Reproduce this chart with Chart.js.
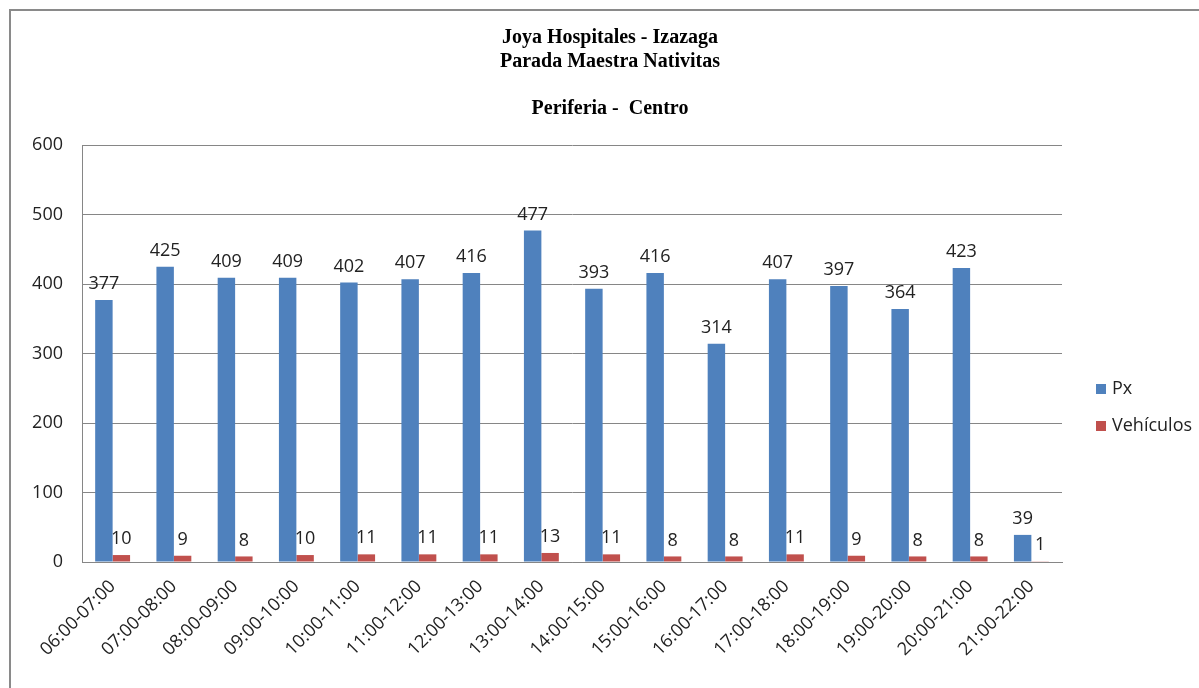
<!DOCTYPE html>
<html>
<head>
<meta charset="utf-8">
<script src="https://cdn.jsdelivr.net/npm/chart.js@4/dist/chart.umd.min.js"></script>
<style>
  body { margin: 0; background: #fff; }
  #wrap { width: 1199px; height: 688px; position: relative; }
</style>
</head>
<body>
<div id="wrap"><canvas id="chart" width="1199" height="688"></canvas></div>
<script>
// data
const horas = ['06:00-07:00', '07:00-08:00', '08:00-09:00', '09:00-10:00', '10:00-11:00', '11:00-12:00',
    '12:00-13:00', '13:00-14:00', '14:00-15:00', '15:00-16:00', '16:00-17:00', '17:00-18:00',
    '18:00-19:00', '19:00-20:00', '20:00-21:00', '21:00-22:00'];
const px = [377, 425, 409, 409, 402, 407, 416, 477, 393, 416, 314, 407, 397, 364, 423, 39];
const vehiculos = [10, 9, 8, 10, 11, 11, 11, 13, 11, 8, 8, 11, 9, 8, 8, 1];
const yTicks = [0, 100, 200, 300, 400, 500, 600];
const titleLines = ['Joya Hospitales - Izazaga', 'Parada Maestra Nativitas', '', 'Periferia -  Centro'];

const labelFont = '18px "Open Sans", sans-serif';

// frame, title and legend drawn around the chart
const decorPlugin = {
    id: 'decor',
    beforeDraw(chart) {
        const ctx = chart.ctx;
        ctx.save();
        ctx.strokeStyle = '#8a8a8a';
        ctx.lineWidth = 2;
        ctx.strokeRect(10, 10, 1250, 750);
        ctx.restore();
    },
    afterDraw(chart) {
        const ctx = chart.ctx;
        ctx.save();
        // title
        ctx.fillStyle = '#000';
        ctx.font = 'bold 20px "Liberation Serif", serif';
        ctx.textAlign = 'center';
        ctx.textBaseline = 'middle';
        titleLines.forEach((line, i) => {
            ctx.fillText(line, 610, 38 + i * 23.5);
        });
        // legend
        ctx.font = labelFont;
        ctx.textAlign = 'left';
        chart.data.datasets.forEach((ds, i) => {
            const y = 389 + i * 37;
            ctx.fillStyle = ds.backgroundColor;
            ctx.fillRect(1096, y - 5, 10, 10);
            ctx.fillStyle = '#222';
            ctx.fillText(ds.label, 1112, y);
        });
        ctx.restore();
    }
};

// value labels above each bar
const valuePlugin = {
    id: 'values',
    afterDatasetsDraw(chart) {
        const ctx = chart.ctx;
        ctx.save();
        ctx.font = labelFont;
        ctx.fillStyle = '#222';
        ctx.textAlign = 'center';
        ctx.textBaseline = 'bottom';
        chart.data.datasets.forEach((ds, i) => {
            chart.getDatasetMeta(i).data.forEach((bar, j) => {
                ctx.fillText(ds.data[j], bar.x, bar.y - 7);
            });
        });
        ctx.restore();
    }
};

new Chart(document.getElementById('chart'), {
    type: 'bar',
    data: {
        labels: horas,
        datasets: [
            { label: 'Px', data: px, backgroundColor: '#4F81BD' },
            { label: 'Vehículos', data: vehiculos, backgroundColor: '#C0504D' }
        ]
    },
    options: {
        responsive: false,
        animation: false,
        categoryPercentage: 0.57,
        barPercentage: 1.0,
        layout: { padding: { top: 145, left: 0, right: 137, bottom: 0 } },
        plugins: {
            legend: { display: false },
            title: { display: false },
            tooltip: { enabled: false }
        },
        scales: {
            x: {
                grid: { display: false },
                border: { display: true, color: '#868686' },
                ticks: {
                    color: '#222',
                    font: { family: 'Open Sans', size: 18 },
                    minRotation: 45,
                    maxRotation: 45,
                    padding: 6,
                    autoSkip: false
                },
                afterFit(scale) { scale.height = 126; }
            },
            y: {
                min: yTicks[0],
                max: yTicks[yTicks.length - 1],
                grid: { color: '#868686', drawTicks: false },
                border: { display: true, color: '#868686' },
                ticks: {
                    stepSize: yTicks[1] - yTicks[0],
                    color: '#222',
                    font: { family: 'Open Sans', size: 18 },
                    padding: 19
                },
                afterFit(scale) { scale.width = 82; }
            }
        }
    },
    plugins: [decorPlugin, valuePlugin]
});
</script>
</body>
</html>
